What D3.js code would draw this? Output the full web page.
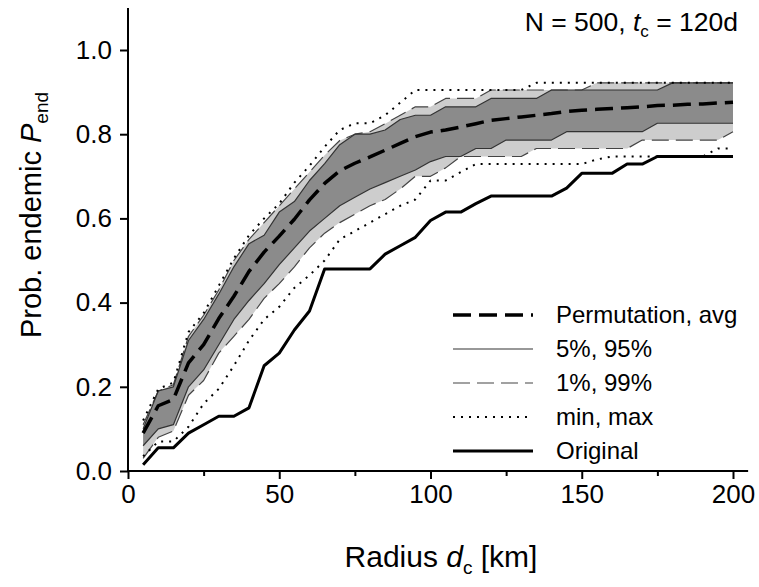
<html>
<head>
<script src="https://d3js.org/d3.v7.min.js"></script>
<style>
  body { margin: 0; background: #fff; }
  text { font-family: "Liberation Sans", Arial, sans-serif; fill: #000; }
</style>
</head>
<body>
<script>

// radius d_c [km]
var radius = [5, 10, 15, 20, 25, 30, 35, 40, 45, 50, 55, 60, 65, 70, 75, 80, 85, 90, 95, 100,
              105, 110, 115, 120, 125, 130, 135, 140, 145, 150, 155, 160, 165, 170, 175, 180, 185, 190, 195, 200];

var permAvg = [0.09, 0.155, 0.17, 0.257, 0.30, 0.362, 0.415, 0.474, 0.52, 0.558, 0.598, 0.644, 0.683, 0.713, 0.731, 0.746, 0.762, 0.778, 0.794, 0.805,
               0.81, 0.817, 0.825, 0.833, 0.837, 0.841, 0.845, 0.849, 0.854, 0.857, 0.859, 0.861, 0.863, 0.865, 0.868, 0.869, 0.871, 0.872, 0.874, 0.876];

var perm95 = [0.10, 0.19, 0.20, 0.31, 0.36, 0.42, 0.485, 0.54, 0.56, 0.615, 0.64, 0.69, 0.73, 0.775, 0.80, 0.80, 0.81, 0.835, 0.845, 0.845,
              0.865, 0.865, 0.865, 0.885, 0.885, 0.885, 0.885, 0.905, 0.905, 0.905, 0.905, 0.905, 0.905, 0.905, 0.905, 0.922, 0.922, 0.922, 0.922, 0.922];

var perm5 = [0.06, 0.10, 0.11, 0.20, 0.24, 0.30, 0.36, 0.405, 0.445, 0.49, 0.53, 0.57, 0.60, 0.63, 0.65, 0.67, 0.685, 0.70, 0.715, 0.735,
             0.747, 0.747, 0.766, 0.766, 0.786, 0.786, 0.786, 0.786, 0.806, 0.806, 0.806, 0.806, 0.806, 0.806, 0.826, 0.826, 0.826, 0.826, 0.826, 0.826];

var perm99 = [0.11, 0.19, 0.205, 0.32, 0.37, 0.43, 0.50, 0.55, 0.59, 0.63, 0.67, 0.71, 0.75, 0.785, 0.80, 0.806, 0.825, 0.845, 0.865, 0.865,
              0.885, 0.885, 0.885, 0.905, 0.905, 0.905, 0.905, 0.905, 0.905, 0.905, 0.922, 0.922, 0.922, 0.922, 0.922, 0.922, 0.922, 0.922, 0.922, 0.922];

var perm1 = [0.03, 0.08, 0.095, 0.18, 0.215, 0.28, 0.32, 0.36, 0.41, 0.445, 0.485, 0.53, 0.565, 0.59, 0.61, 0.63, 0.645, 0.67, 0.70, 0.70,
             0.72, 0.747, 0.747, 0.747, 0.747, 0.747, 0.766, 0.766, 0.766, 0.766, 0.766, 0.766, 0.766, 0.786, 0.786, 0.786, 0.786, 0.786, 0.786, 0.806];

var permMax = [0.12, 0.195, 0.21, 0.33, 0.375, 0.44, 0.505, 0.56, 0.60, 0.635, 0.685, 0.725, 0.77, 0.81, 0.826, 0.826, 0.845, 0.875, 0.905, 0.905,
               0.905, 0.905, 0.905, 0.905, 0.905, 0.905, 0.922, 0.922, 0.922, 0.922, 0.922, 0.922, 0.922, 0.922, 0.922, 0.922, 0.922, 0.922, 0.922, 0.922];

var permMin = [0.035, 0.07, 0.07, 0.105, 0.16, 0.195, 0.25, 0.31, 0.36, 0.39, 0.435, 0.465, 0.50, 0.55, 0.57, 0.59, 0.61, 0.63, 0.645, 0.69,
               0.69, 0.71, 0.729, 0.729, 0.729, 0.729, 0.729, 0.729, 0.729, 0.729, 0.74, 0.747, 0.747, 0.747, 0.747, 0.747, 0.747, 0.747, 0.766, 0.766];

var original = [0.015, 0.055, 0.055, 0.09, 0.11, 0.13, 0.13, 0.15, 0.25, 0.28, 0.335, 0.38, 0.48, 0.48, 0.48, 0.48, 0.515, 0.535, 0.555, 0.595,
                0.615, 0.615, 0.635, 0.653, 0.653, 0.653, 0.653, 0.653, 0.672, 0.707, 0.707, 0.707, 0.729, 0.729, 0.747, 0.747, 0.747, 0.747, 0.747, 0.747];

var xTicks = [0, 50, 100, 150, 200];
var xMinor = [25, 75, 125, 175];
var yTicks = [0, 0.2, 0.4, 0.6, 0.8, 1.0];

var legendLabels = ["Permutation, avg", "5%, 95%", "1%, 99%", "min, max", "Original"];

var width = 759, height = 587;

var svg = d3.select("body").append("svg")
            .attr("width", width)
            .attr("height", height);

var x = d3.scaleLinear()
          .domain([0, 200])
          .range([128, 733]);
var y = d3.scaleLinear()
          .domain([0, 1])
          .range([471, 50]);

var rows = radius.map(function(d, i) {
  return {r: d, avg: permAvg[i], p95: perm95[i], p5: perm5[i], p99: perm99[i], p1: perm1[i],
          max: permMax[i], min: permMin[i], orig: original[i]};
});

function band(lo, hi) {
  return d3.area()
           .x(function(d) { return x(d.r); })
           .y0(function(d) { return y(d[lo]); })
           .y1(function(d) { return y(d[hi]); });
}
function line(key) {
  return d3.line()
           .x(function(d) { return x(d.r); })
           .y(function(d) { return y(d[key]); });
}

// shaded bands
svg.append("path").datum(rows).attr("d", band("p1", "p99")).attr("fill", "#cdcdcd");
svg.append("path").datum(rows).attr("d", band("p5", "p95")).attr("fill", "#8b8b8b");

var styles = {
  avg:  {stroke: "#000", width: 3.5, dash: "18,8"},
  pct5: {stroke: "#333", width: 1.2, dash: null},
  pct1: {stroke: "#444", width: 1.2, dash: "17,7"},
  ext:  {stroke: "#000", width: 2,   dash: "2,6"},
  orig: {stroke: "#000", width: 3,   dash: null}
};

function drawLine(key, st) {
  svg.append("path").datum(rows)
     .attr("d", line(key))
     .attr("fill", "none")
     .attr("stroke", st.stroke)
     .attr("stroke-width", st.width)
     .attr("stroke-dasharray", st.dash)
     .attr("stroke-linejoin", "round");
}

drawLine("p1", styles.pct1);
drawLine("p99", styles.pct1);
drawLine("p5", styles.pct5);
drawLine("p95", styles.pct5);
drawLine("min", styles.ext);
drawLine("max", styles.ext);
drawLine("orig", styles.orig);
drawLine("avg", styles.avg);

// axes
var xAxis = svg.append("g")
               .attr("transform", "translate(0," + y(0) + ")")
               .call(d3.axisBottom(x).tickValues(xTicks).tickSize(8).tickPadding(6).tickFormat(d3.format("d")));
var xMinorAxis = svg.append("g")
               .attr("transform", "translate(0," + y(0) + ")")
               .call(d3.axisBottom(x).tickValues(xMinor).tickSize(5).tickFormat(""));
var yAxis = svg.append("g")
               .attr("transform", "translate(" + x(0) + ",0)")
               .call(d3.axisLeft(y).tickValues(yTicks).tickSize(8).tickPadding(8).tickFormat(d3.format(".1f")));

svg.selectAll(".domain").remove();
svg.selectAll(".tick line").attr("stroke", "#000").attr("stroke-width", 2);
svg.selectAll(".tick text").style("font-size", "26px").attr("fill", "#000");

svg.append("line")
   .attr("x1", x(0) - 1).attr("x2", x(205))
   .attr("y1", y(0)).attr("y2", y(0))
   .attr("stroke", "#000").attr("stroke-width", 2);
svg.append("line")
   .attr("x1", x(0)).attr("x2", x(0))
   .attr("y1", y(0) + 1).attr("y2", y(1.1))
   .attr("stroke", "#000").attr("stroke-width", 2);

// axis titles
var xLabel = svg.append("text")
   .attr("x", 441)
   .attr("y", 567)
   .attr("text-anchor", "middle")
   .style("font-size", "30px");
xLabel.append("tspan").text("Radius ");
xLabel.append("tspan").style("font-style", "italic").text("d");
xLabel.append("tspan").attr("dy", 7).style("font-size", "19px").text("c");
xLabel.append("tspan").attr("dy", -7).text(" [km]");

var yLabel = svg.append("text")
   .attr("transform", "translate(41,215) rotate(-90)")
   .attr("text-anchor", "middle")
   .style("font-size", "29px");
yLabel.append("tspan").text("Prob. endemic ");
yLabel.append("tspan").style("font-style", "italic").text("P");
yLabel.append("tspan").attr("dy", 7).style("font-size", "19px").text("end");

// annotation
var note = svg.append("text")
   .attr("x", 738)
   .attr("y", 31)
   .attr("text-anchor", "end")
   .style("font-size", "26.5px");
note.append("tspan").text("N = 500, ");
note.append("tspan").style("font-style", "italic").text("t");
note.append("tspan").attr("dy", 6).style("font-size", "17px").text("c");
note.append("tspan").attr("dy", -6).text(" = 120d");

// legend
var legendStyles = [styles.avg, styles.pct5, styles.pct1, styles.ext, styles.orig];
var legend = svg.append("g");
legendLabels.forEach(function(label, i) {
  var ly = 315 + i * 34;
  var st = legendStyles[i];
  legend.append("line")
        .attr("x1", 453).attr("x2", 533)
        .attr("y1", ly).attr("y2", ly)
        .attr("stroke", st.stroke)
        .attr("stroke-width", st.width)
        .attr("stroke-dasharray", st.dash);
  legend.append("text")
        .attr("x", 556)
        .attr("y", ly)
        .attr("dy", "0.35em")
        .style("font-size", "24px")
        .text(label);
});

</script>
</body>
</html>
